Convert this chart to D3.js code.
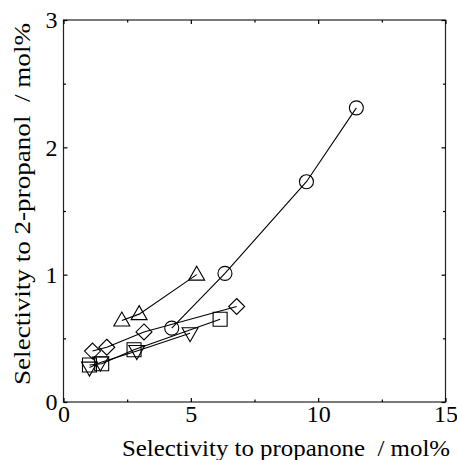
<!DOCTYPE html>
<html><head><meta charset="utf-8">
<script src="https://cdn.jsdelivr.net/npm/d3@7"></script>
<style>body{margin:0;background:#fff}svg{display:block}</style>
</head><body>
<script>
// Data
const circleX = [4.25, 6.34, 9.54, 11.5];
const circleY = [0.58, 1.01, 1.73, 2.31];
const triUpX = [2.29, 2.97, 5.23];
const triUpY = [0.64, 0.69, 1.00];
const diamondX = [1.14, 1.70, 3.16, 6.80];
const diamondY = [0.40, 0.43, 0.55, 0.75];
const squareX = [1.02, 1.50, 2.77, 6.15];
const squareY = [0.29, 0.30, 0.41, 0.65];
const triDownX = [1.02, 1.45, 2.88, 4.97];
const triDownY = [0.27, 0.31, 0.40, 0.54];
const xTicks = [0, 5, 10, 15];
const yTicks = [0, 1, 2, 3];
const xMinor = [2.5, 7.5, 12.5];
const yMinor = [0.5, 1.5, 2.5];
const xLabel = "Selectivity to propanone  / mol%";
const yLabel = "Selectivity to 2-propanol  / mol%";

const W = 457, H = 460;
const L = 63.5, R = 445.5, T = 20, B = 402;
const FONT = '"Liberation Serif"';
const svg = d3.select("body").append("svg").attr("width", W).attr("height", H);
const x = d3.scaleLinear().domain([0, 15]).range([L, R]);
const y = d3.scaleLinear().domain([0, 3]).range([B, T]);

// frame
svg.append("rect").attr("x", L).attr("y", T).attr("width", R - L).attr("height", B - T)
  .attr("fill", "none").attr("stroke", "#222").attr("stroke-width", 1.2);

// axes with inward ticks
const gx = svg.append("g").attr("transform", `translate(0,${B})`)
  .call(d3.axisBottom(x).tickValues(xTicks).tickSize(-4).tickPadding(3).tickFormat(d3.format("d")));
const gxt = svg.append("g").attr("transform", `translate(0,${T})`)
  .call(d3.axisTop(x).tickValues(xTicks).tickSize(-4).tickFormat(""));
const gxm = svg.append("g").attr("transform", `translate(0,${B})`)
  .call(d3.axisBottom(x).tickValues(xMinor).tickSize(-2.5).tickFormat(""));
const gxmt = svg.append("g").attr("transform", `translate(0,${T})`)
  .call(d3.axisTop(x).tickValues(xMinor).tickSize(-2.5).tickFormat(""));
const gy = svg.append("g").attr("transform", `translate(${L},0)`)
  .call(d3.axisLeft(y).tickValues(yTicks).tickSize(-4).tickPadding(6).tickFormat(d3.format("d")));
const gyr = svg.append("g").attr("transform", `translate(${R},0)`)
  .call(d3.axisRight(y).tickValues(yTicks).tickSize(-4).tickFormat(""));
const gym = svg.append("g").attr("transform", `translate(${L},0)`)
  .call(d3.axisLeft(y).tickValues(yMinor).tickSize(-2.5).tickFormat(""));
const gymr = svg.append("g").attr("transform", `translate(${R},0)`)
  .call(d3.axisRight(y).tickValues(yMinor).tickSize(-2.5).tickFormat(""));
[gx, gxt, gxm, gxmt, gy, gyr, gym, gymr].forEach(g => {
  g.attr("font-family", null);
  g.select(".domain").remove();
  g.selectAll("line").attr("stroke", "#000").attr("stroke-width", 1.2);
  g.selectAll("text").style("font-family", FONT).attr("font-size", 24).attr("fill", "#000");
});

// axis labels
svg.append("text").attr("x", 286).attr("y", 456).attr("text-anchor", "middle")
  .style("font-family", FONT).attr("font-size", 24).attr("fill", "#000")
  .attr("textLength", 328).attr("lengthAdjust", "spacingAndGlyphs")
  .style("white-space", "pre").text(xLabel);
svg.append("text").attr("transform", "translate(30,204) rotate(-90)").attr("text-anchor", "middle")
  .style("font-family", FONT).attr("font-size", 24).attr("fill", "#000")
  .attr("textLength", 362).attr("lengthAdjust", "spacingAndGlyphs")
  .style("white-space", "pre").text(yLabel);

const series = [
  {xs: circleX, ys: circleY, shape: "circle"},
  {xs: triUpX, ys: triUpY, shape: "triUp"},
  {xs: diamondX, ys: diamondY, shape: "diamond"},
  {xs: squareX, ys: squareY, shape: "square"},
  {xs: triDownX, ys: triDownY, shape: "triDown"}
];
const line = d3.line().x(d => x(d[0])).y(d => y(d[1]));
function shapePath(s) {
  switch (s) {
    case "triUp": return "M0,-8.5L8,5.5L-8,5.5Z";
    case "triDown": return "M0,8.5L8,-5.5L-8,-5.5Z";
    case "diamond": return "M0,-8L8,0L0,8L-8,0Z";
    case "square": return "M-7,-7H7V7H-7Z";
  }
}
series.forEach(s => {
  const pts = s.xs.map((v, i) => [v, s.ys[i]]);
  svg.append("path").attr("d", line(pts)).attr("fill", "none").attr("stroke", "#000").attr("stroke-width", 1.1);
  const g = svg.append("g");
  pts.forEach(p => {
    if (s.shape === "circle") {
      g.append("circle").attr("cx", x(p[0])).attr("cy", y(p[1])).attr("r", 7)
        .attr("fill", "none").attr("stroke", "#000").attr("stroke-width", 1.1);
    } else {
      g.append("path").attr("d", shapePath(s.shape))
        .attr("transform", `translate(${x(p[0])},${y(p[1])})`)
        .attr("fill", "none").attr("stroke", "#000").attr("stroke-width", 1.1);
    }
  });
});
</script>
</body></html>
